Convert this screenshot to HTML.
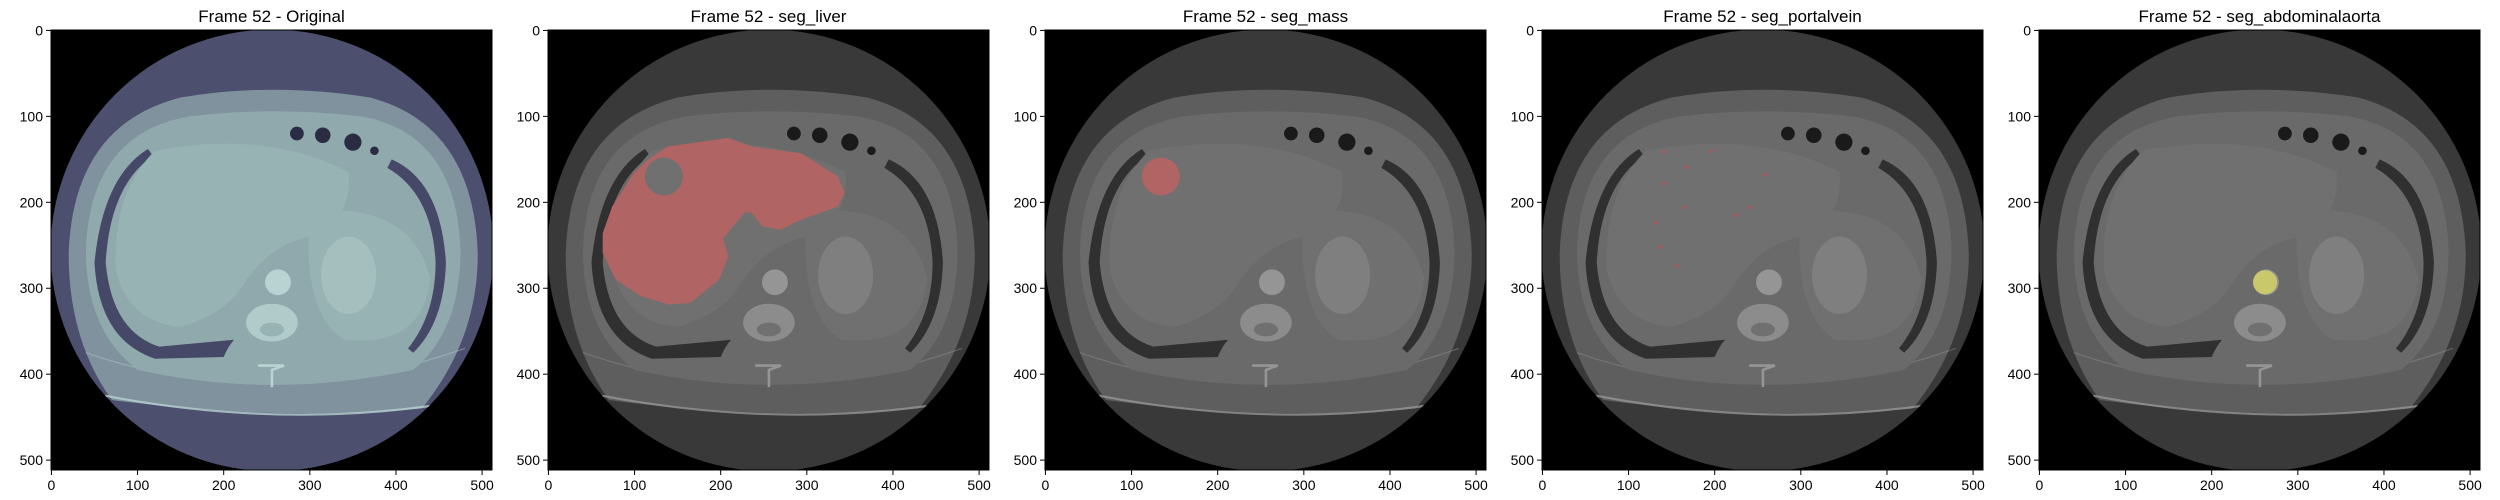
<!DOCTYPE html>
<html><head><meta charset="utf-8"><style>
html,body{margin:0;padding:0;background:#fff;}
svg{display:block;font-family:"Liberation Sans","DejaVu Sans",sans-serif;}
</style></head><body>
<svg id="fig" width="2500" height="500" viewBox="0 0 2500 500" xmlns="http://www.w3.org/2000/svg"></svg>
<script>
// ---- data ----
const panelTitles = ["Frame 52 - Original","Frame 52 - seg_liver","Frame 52 - seg_mass","Frame 52 - seg_portalvein","Frame 52 - seg_abdominalaorta"];
const tickValues = [0,100,200,300,400,500];
const tickLabels = ["0","100","200","300","400","500"];
const liverX = [138,209,236,294,336,344,336,294,269,248,236,228,211,203,209,198,165,140,107,78,63,63,74,99,115];
const liverY = [135,125,135,143,170,189,205,220,232,228,212,212,232,243,263,290,317,319,309,290,259,236,205,166,151];
const massCenter = [134,170];
const massRadius = [22];
const portalX = [141,168,196,141,258,165,224,132,137,156,241];
const portalY = [141,159,141,178,168,206,215,224,252,274,206];
const aortaCenter = [262,293];
const aortaRadius = [14];

const NS="http://www.w3.org/2000/svg";
const svg=document.getElementById('fig');
function mk(tag,attrs,parent){const e=document.createElementNS(NS,tag);for(const k in attrs)e.setAttribute(k,attrs[k]);(parent||svg).appendChild(e);return e;}

const AX_W=441, AX_H=440, TOP=30;
function panelLeft(i){return 51+i*497;}
function sx(v){return (v+0.5)*AX_W/512;}
function sy(v){return (v+0.5)*AX_H/512;}

const palettes=[
 {fov:"#4c4f6d",fat:"#7f929e",muscle:"#90a9ac",organ:"#98b3b3",bright:"#b9d2d2",dark:"#454867",gas:"#2a2c44"},
 {fov:"#393939",fat:"#5e5e5e",muscle:"#6a6a6a",organ:"#707070",bright:"#959595",dark:"#303030",gas:"#1a1a1a"}
];

for(let i=0;i<5;i++){
  const L=panelLeft(i);
  const pal=i===0?palettes[0]:palettes[1];
  const t=mk('text',{x:L+AX_W/2,y:22,'text-anchor':'middle','font-size':'17',fill:'#000'});
  t.textContent=panelTitles[i];
  
  
  const g=mk('g',{transform:`translate(${L},${TOP})`});
  
  
  const cp=mk('clipPath',{id:'cp'+i},g);mk('rect',{x:0,y:0,width:AX_W,height:AX_H},cp);
  const im=mk('g',{'clip-path':`url(#cp${i})`},g);
  mk('rect',{x:0,y:0,width:AX_W,height:AX_H,fill:'#000'},im);
  const a=mk('g',{transform:`scale(${AX_W/512},${AX_H/512}) translate(0.5,0.5)`},im);
  const cc=mk('clipPath',{id:'cc'+i},a);mk('circle',{cx:256,cy:256,r:257},cc);
  const c=mk('g',{'clip-path':`url(#cc${i})`},a);
  mk('rect',{x:0,y:0,width:512,height:512,fill:pal.fov},c);
  // body
  mk('path',{d:'M20 260 Q25 110 150 78 Q256 60 370 78 Q490 110 495 260 Q495 360 430 440 Q256 455 70 430 Q20 360 20 260 Z',fill:pal.fat},c);
  mk('path',{d:'M40 375 Q256 450 480 370',stroke:pal.bright,'stroke-width':1.5,fill:'none',opacity:0.4},c);
  mk('path',{d:'M62 425 Q256 462 440 437',stroke:pal.bright,'stroke-width':2.5,fill:'none',opacity:0.8},c);
  mk('path',{d:'M40 255 Q45 120 160 100 Q256 88 360 100 Q470 120 475 255 Q475 350 420 395 Q256 430 100 395 Q40 350 40 255 Z',fill:pal.muscle},c);
  // dark crescents
  mk('path',{d:'M112 138 Q60 170 50 270 Q55 360 120 382 L200 380 Q205 368 212 360 L125 368 Q70 350 63 270 Q68 180 118 146 Z',fill:pal.dark},c);
  mk('path',{d:'M395 150 Q452 175 458 270 Q456 340 420 375 L414 370 Q446 330 446 270 Q442 190 390 160 Z',fill:pal.dark},c);
  // organs
  mk('path',{d:'M120 140 Q250 115 345 165 Q350 220 300 240 Q250 250 220 300 Q200 330 150 345 Q90 340 75 280 Q70 190 120 140 Z',fill:pal.organ},c);
  mk('path',{d:'M300 210 Q420 200 440 290 Q430 370 340 360 Q290 330 300 210 Z',fill:pal.organ},c);
  mk('ellipse',{cx:345,cy:285,rx:32,ry:45,fill:pal.bright,opacity:0.4},c);
  mk('circle',{cx:263,cy:293,r:15,fill:pal.bright},c);
  mk('ellipse',{cx:256,cy:340,rx:30,ry:22,fill:pal.bright,opacity:0.8},c);
  mk('ellipse',{cx:256,cy:348,rx:14,ry:8,fill:pal.organ},c);
  mk('path',{d:'M240 390 L270 390 L256 395 L256 415',stroke:pal.bright,'stroke-width':3,fill:'none'},c);
  [[285,120,8],[315,122,9],[350,130,10],[375,140,5]].forEach(b=>mk('circle',{cx:b[0],cy:b[1],r:b[2],fill:pal.gas},c));
  if(i===1){
    let d='M'+liverX.map((x,k)=>x+' '+liverY[k]).join(' L')+' Z';
    const lv=mk('path',{d:d,fill:'#b06464'},c);
    
    
    mk('circle',{cx:massCenter[0],cy:massCenter[1],r:massRadius[0],fill:pal.organ},c);
  }
  if(i===2){
    const m=mk('circle',{cx:massCenter[0],cy:massCenter[1],r:massRadius[0],fill:'#b06464'},c);
    
    
  }
  if(i===3){
    portalX.forEach((x,k)=>{
      const p=mk('circle',{cx:x,cy:portalY[k],r:2.2,fill:'#a85a5a'},c);
      
      
    });
  }
  if(i===4){
    const ao=mk('circle',{cx:aortaCenter[0],cy:aortaCenter[1],r:aortaRadius[0],fill:'#c9c96c'},c);
    
    
  }
  mk('rect',{x:0,y:0,width:AX_W,height:AX_H,fill:'none',stroke:'#000','stroke-width':1},g);
  tickValues.forEach((v,k)=>{
    const x=sx(v);
    mk('line',{x1:x,y1:AX_H,x2:x,y2:AX_H+5,stroke:'#000','stroke-width':1},g);
    const tx=mk('text',{x:x,y:AX_H+20,'text-anchor':'middle','font-size':'14',fill:'#000'},g);
    tx.textContent=tickLabels[k];
    
    
    const y=sy(v);
    mk('line',{x1:0,y1:y,x2:-5,y2:y,stroke:'#000','stroke-width':1},g);
    const ty=mk('text',{x:-8,y:y+5,'text-anchor':'end','font-size':'14',fill:'#000'},g);
    ty.textContent=tickLabels[k];
    
    
  });
}
</script>
</body></html>
